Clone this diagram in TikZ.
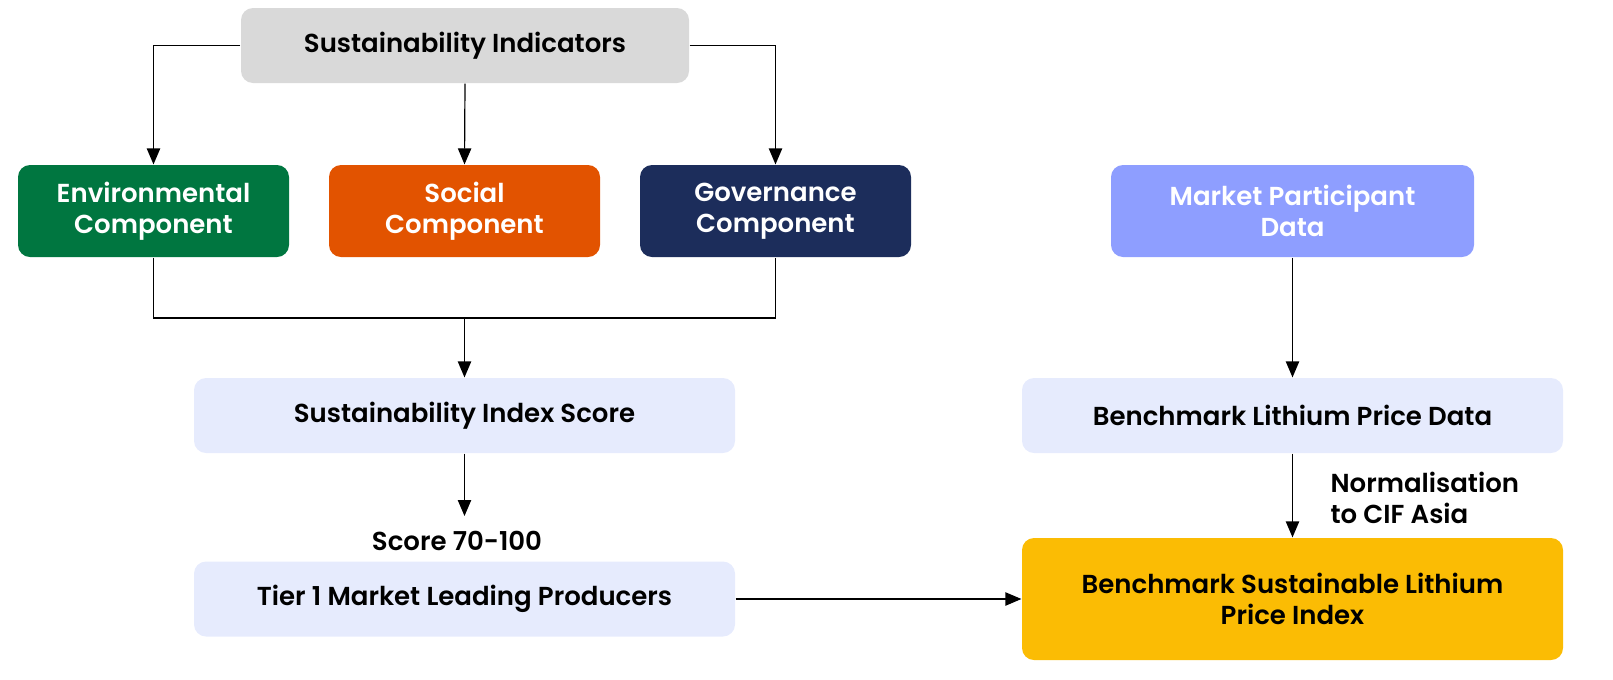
\documentclass[tikz,border=0pt]{standalone}
\usepackage{fontspec}
\setmainfont{Poppins}[BoldFont={Poppins SemiBold}]
\usetikzlibrary{arrows.meta}
\definecolor{indgrey}{HTML}{D9D9D9}
\definecolor{envgreen}{HTML}{007640}
\definecolor{socorange}{HTML}{E25300}
\definecolor{govnavy}{HTML}{1C2D5B}
\definecolor{mktblue}{HTML}{8E9EFF}
\definecolor{idxblue}{HTML}{E6EBFD}
\definecolor{slpiyellow}{HTML}{FBBC04}
\begin{document}
\begin{tikzpicture}[x=0.75pt,y=-0.75pt,
    box/.style={rounded corners=9pt,align=center,inner sep=0pt,
        font=\bfseries\fontsize{19.5}{23.25}\selectfont},
    comp/.style={box,text=white,minimum width=203.25pt,minimum height=69pt},
    wide/.style={box,fill=idxblue,minimum width=405.75pt,minimum height=56.25pt},
    lbl/.style={font=\bfseries\fontsize{19.5}{23.25}\selectfont,inner sep=0pt},
    arr/.style={-{Triangle[length=12pt,width=10pt]}},
    every path/.style={line width=0.9pt}]
\useasboundingbox (0,0) rectangle (1613,679);
\node[box,fill=indgrey,minimum width=336pt,minimum height=56.25pt] (ind) at (465,45.5) {Sustainability Indicators};
\node[comp,fill=envgreen] (env) at (153.5,211) {Environmental\\Component};
\node[comp,fill=socorange] (soc) at (464.5,211) {Social\\Component};
\node[comp,fill=govnavy] (gov) at (775.5,211) {Governance\\Component};
\node[box,text=white,fill=mktblue,minimum width=272.25pt,minimum height=69pt] (mkt) at (1292.5,211) {Market Participant\\Data};
\node[wide] (idx) at (464.5,415.5) {Sustainability Index Score};
\node[wide] (lpd) at (1292.5,415.5) {Benchmark Lithium Price Data};
\node[wide] (tier) at (464.5,599) {Tier 1 Market Leading Producers};
\node[box,fill=slpiyellow,minimum width=405.75pt,minimum height=91.5pt] (slpi) at (1292.5,599) {Benchmark Sustainable Lithium\\Price Index};
\node[lbl] (score) at (457,541) {Score 70-100};
\node[lbl,align=left,anchor=west] (norm) at (1330,498) {Normalisation\\to CIF Asia};
\coordinate (join) at (464.5,318);
\coordinate (cut) at (464.5,516);
\draw[arr] (ind.west) -| (env.north);
\draw[arr] (ind.south) -- (soc.north);
\draw[arr] (ind.east) -| (gov.north);
\draw (env.south) |- (join) -| (gov.south);
\draw (soc.south |- join) -- (join);
\draw[arr] (join) -- (idx.north);
\draw[arr] (idx.south) -- (cut);
\draw[arr] (tier.east) -- (slpi.west);
\draw[arr] (mkt.south) -- (lpd.north);
\draw[arr] (lpd.south) -- (slpi.north);
\end{tikzpicture}
\end{document}
